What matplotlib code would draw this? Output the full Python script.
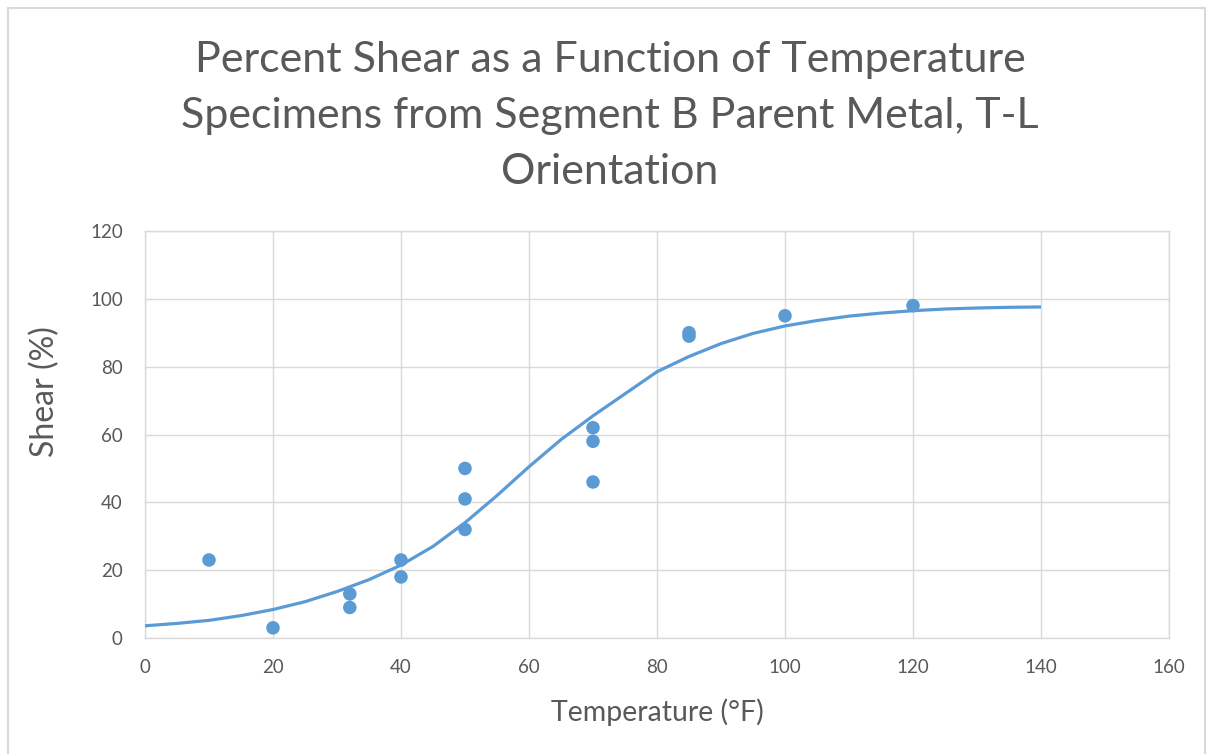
import matplotlib
matplotlib.use("Agg")
import matplotlib.pyplot as plt
from matplotlib.patches import Rectangle

# Measured specimens: test temperature (°F) and percent shear
temp_f = [10, 20, 32, 32, 40, 40, 50, 50, 50, 70, 70, 70, 85, 85, 100, 120]
shear_pct = [23, 3, 13, 9, 23, 18, 50, 41, 32, 62, 58, 46, 90, 89, 95, 98]

# Fitted transition curve
fit_temp = [0, 5, 10, 15, 20, 25, 30, 35, 40, 45, 50, 55, 60, 65, 70,
            75, 80, 85, 90, 95, 100, 105, 110, 115, 120, 125, 130, 135, 140]
fit_shear = [3.6, 4.3, 5.2, 6.6, 8.4, 10.7, 13.7, 17.2, 21.5, 27.0, 34.0, 42.0,
             50.5, 58.5, 65.5, 72.0, 78.5, 83.0, 86.8, 89.8, 92.0, 93.6, 94.9,
             95.8, 96.5, 97.0, 97.3, 97.5, 97.6]

x_ticks = [0, 20, 40, 60, 80, 100, 120, 140, 160]
y_ticks = [0, 20, 40, 60, 80, 100, 120]

title_lines = ["Percent Shear as a Function of Temperature",
               "Specimens from Segment B Parent Metal, T-L",
               "Orientation"]

BLUE = "#5B9BD5"
TEXT = "#595959"
GRID = "#D9D9D9"
FONT = ["Lato", "DejaVu Sans"]

plt.rcParams["font.family"] = FONT

W, H = 1213, 754
fig = plt.figure(figsize=(W / 100, H / 100), dpi=100)
fig.patch.set_facecolor("white")

# Chart-area frame
fig.patches.append(Rectangle((8 / W, -0.05), (1205 - 8) / W, 1.05 - 8 / H,
                             transform=fig.transFigure, fill=False,
                             edgecolor="#D9D9D9", linewidth=1.5))

ax = fig.add_axes([145 / W, 1 - 638 / H, (1169 - 145) / W, (638 - 231) / H])

ax.plot(fit_temp, fit_shear, color=BLUE, linewidth=2.3, zorder=3,
        solid_capstyle="butt")
ax.scatter(temp_f, shear_pct, s=95, color=BLUE, edgecolors="none", zorder=4)

ax.set_xlim(0, 160)
ax.set_ylim(0, 120)
ax.set_xticks(x_ticks)
ax.set_yticks(y_ticks)
ax.grid(True, color=GRID, linewidth=1)
ax.set_axisbelow(True)
for side in ["top", "right", "left", "bottom"]:
    ax.spines[side].set_color(GRID)
    ax.spines[side].set_linewidth(1)
ax.tick_params(axis="both", length=0, labelsize=13.5, colors=TEXT)
ax.tick_params(axis="x", pad=15)
ax.tick_params(axis="y", pad=16)

ax.set_xlabel("Temperature (°F)", fontsize=20.5, color=TEXT, labelpad=16)
ax.set_ylabel("Shear (%)", fontsize=23, color=TEXT, va="center")
ax.yaxis.set_label_coords(-0.0977, (638 - 392) / (638 - 231))

# Three-line chart title
title_y = [60, 116, 172]
for line, yc in zip(title_lines, title_y):
    fig.text(0.503, 1 - yc / H, line, ha="center", va="center", fontsize=31,
             color=TEXT, transform=fig.transFigure)

fig.savefig("out.png", dpi=100)
